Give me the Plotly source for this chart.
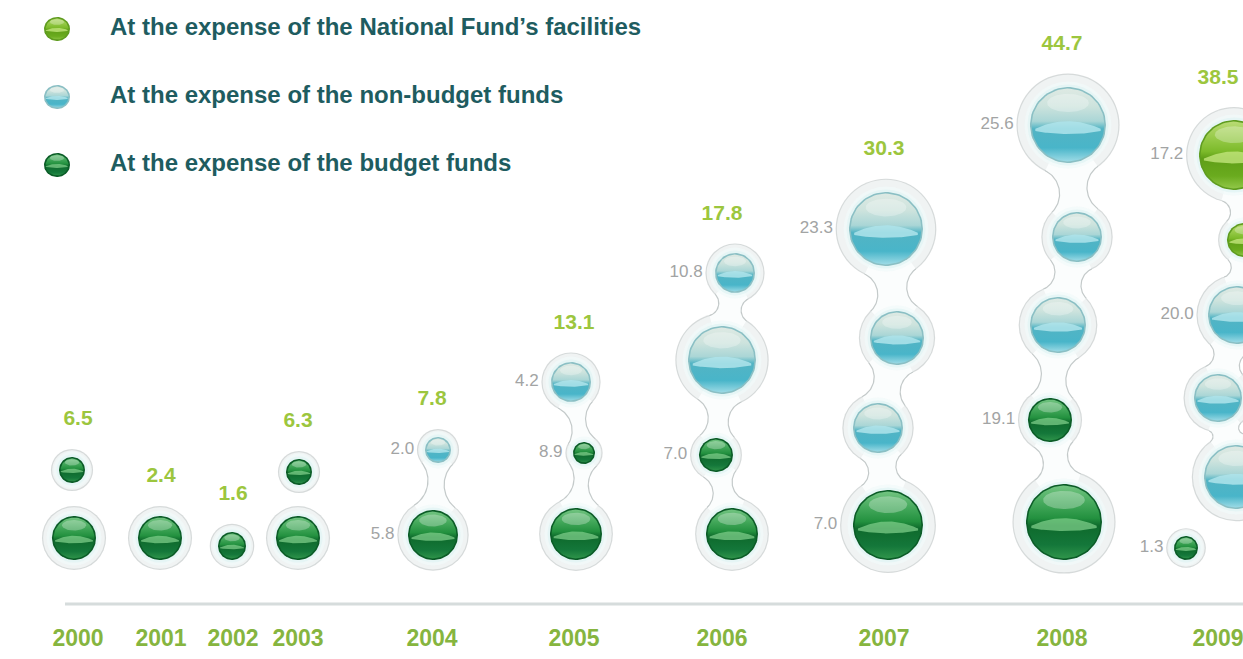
import numpy as np
import plotly.graph_objects as go

# ---- values (billion) ----
years = ["2000", "2001", "2002", "2003", "2004", "2005", "2006", "2007", "2008", "2009"]
budget = [6.5, 2.4, 1.6, 6.3, 5.8, 8.9, 7.0, 7.0, 19.1, 1.3]
non_budget = [0, 0, 0, 0, 2.0, 4.2, 10.8, 23.3, 25.6, 20.0]
national = [0, 0, 0, 0, 0, 0, 0, 0, 0, 17.2]
legend_labels = [
    "At the expense of the National Fund\u2019s facilities",
    "At the expense of the non-budget funds",
    "At the expense of the budget funds",
]

# ---- layout of the bubble columns (pixel-like units) ----
W, H = 1243, 659
FLOOR = 560          # bottom edge of the lowest bubbles
BASE_Y = 604         # horizontal rule
col_x = [78, 161, 233, 298, 432, 574, 722, 884, 1062, 1218]
# per column, bottom to top: (category, radius, dx, gap below, joined to previous)
col_bubbles = [
    [("B", 22, -4, 0, False), ("B", 13, -6, 33, False)],
    [("B", 22, -1, 0, False)],
    [("B", 14, -1, 0, False)],
    [("B", 22, 0, 0, False), ("B", 13, 1, 31, False)],
    [("B", 25, 1, 0, False), ("N", 13, 6, 47, True)],
    [("B", 26, 2, 0, False), ("B", 11, 10, 44, True), ("N", 20, -3, 40, True)],
    [("B", 26, 10, 0, False), ("B", 17, -6, 36, True), ("N", 34, 0, 44, True),
     ("N", 20, 13, 33, True)],
    [("B", 35, 4, 0, False), ("N", 25, -6, 37, True), ("N", 27, 13, 38, True),
     ("N", 37, 2, 45, True)],
    [("B", 38, 2, 0, False), ("B", 22, -12, 42, True), ("N", 28, -4, 45, True),
     ("N", 25, 15, 35, True), ("N", 38, 6, 49, True)],
    [("B", 12, -32, 0, False), ("N", 32, 18, 27, False), ("N", 24, 0, 23, True),
     ("N", 29, 19, 30, True), ("F", 17, 26, 29, True), ("F", 35, 16, 33, True)],
]

cat_values = {"F": national, "N": non_budget, "B": budget}

# glossy fills, top to bottom, plus the pale "wave" reflection colour
STYLE = {
    "B": dict(rim="#0b5c27", band="rgba(125,205,138,0.75)", scale=[
        [0.00, "#76c784"], [0.25, "#45a95c"], [0.45, "#23913f"], [0.55, "#0e6a2c"],
        [0.80, "#14773a"], [1.00, "#32984c"]]),
    "N": dict(rim="#8abfc4", band="rgba(175,228,235,0.85)", scale=[
        [0.00, "#dfeae4"], [0.25, "#cde3dd"], [0.45, "#aad6d6"], [0.55, "#52b4c4"],
        [0.80, "#49b5c9"], [1.00, "#a6dfe9"]]),
    "F": dict(rim="#5f9c1f", band="rgba(195,230,125,0.8)", scale=[
        [0.00, "#bcdc78"], [0.25, "#98cb4a"], [0.45, "#7cba2a"], [0.55, "#5f9e17"],
        [0.80, "#6aab1e"], [1.00, "#95ca4c"]]),
}

HALO_LINE = "#c4caca"
HALO_FILL = "#fbfdfd"


def halo_radius(r):
    return 1.22 * r + 4


def ellipse(cx, cy, rx, ry, n=80):
    t = np.linspace(0, 2 * np.pi, n)
    return cx + rx * np.cos(t), cy + ry * np.sin(t)


def neck(c1, r1, c2, r2, grow=0.0):
    """Filleted bridge between two circles; grow offsets the contour outward."""
    c1 = np.asarray(c1, float)
    c2 = np.asarray(c2, float)
    d = np.linalg.norm(c2 - c1)
    u = (c2 - c1) / d
    nrm = np.array([-u[1], u[0]])
    waist = 0.38 * min(r1, r2)

    def geom(rf):
        a = (d * d + (r1 + rf) ** 2 - (r2 + rf) ** 2) / (2 * d)
        h2 = (r1 + rf) ** 2 - a * a
        return a, np.sqrt(max(h2, 0.0))

    lo = max((d - r1 - r2) / 2, 0) + 1e-3
    rf = None
    for cand in np.linspace(lo, lo + 6 * max(r1, r2), 2000):
        a, h = geom(cand)
        if h - cand >= waist:
            rf = cand
            break
    if rf is None:
        rf = lo + 2 * max(r1, r2)
    a, h = geom(rf)
    sides = []
    for s in (1, -1):
        p = c1 + a * u + s * h * nrm
        ta = c1 + (p - c1) * (r1 + grow) / (r1 + rf)
        tb = c2 + (p - c2) * (r2 + grow) / (r2 + rf)
        aa = np.arctan2(ta[1] - p[1], ta[0] - p[0])
        ab = np.arctan2(tb[1] - p[1], tb[0] - p[0])
        diff = (ab - aa + np.pi) % (2 * np.pi) - np.pi
        t = aa + np.linspace(0, 1, 40) * diff
        sides.append(np.c_[p[0] + (rf - grow) * np.cos(t), p[1] + (rf - grow) * np.sin(t)])
    left, right = sides
    pts = np.array([c1] + list(left) + [c2] + list(right[::-1]) + [c1])
    return pts[:, 0], pts[:, 1]


# ---- place bubbles by stacking each column upward from the floor ----
placed = []
for ci, stack in enumerate(col_bubbles):
    top_edge = FLOOR
    for cat, r, dx, gap, joined in stack:
        cy = top_edge - gap - r
        placed.append(dict(col=ci, cat=cat, cx=col_x[ci] + dx, cy=cy, r=r, joined=joined))
        top_edge = cy - r

fig = go.Figure()
skip = dict(hoverinfo="skip", showlegend=False)

# horizontal rule
fig.add_trace(go.Scatter(x=[65, W], y=[BASE_Y, BASE_Y], mode="lines",
                         line=dict(color="#d6dcdc", width=3), **skip))

# halo contours first, then halo fills, so joined halos show one outline
necks = [(placed[i - 1], b) for i, b in enumerate(placed) if b["joined"]]
for grow, color in ((1.2, HALO_LINE), (0.0, HALO_FILL)):
    fig.add_trace(go.Scatter(
        x=[b["cx"] for b in placed], y=[b["cy"] for b in placed], mode="markers",
        marker=dict(size=[2 * (halo_radius(b["r"]) + grow) for b in placed],
                    color=color, line=dict(width=0)), **skip))
    for p, b in necks:
        nx, ny = neck((p["cx"], p["cy"]), halo_radius(p["r"]),
                      (b["cx"], b["cy"]), halo_radius(b["r"]), grow=grow)
        fig.add_trace(go.Scatter(x=nx, y=ny, mode="lines", fill="toself",
                                 fillcolor=color, line=dict(width=0), **skip))

# soft cyan glow around each bubble
for extra, color in ((11, "#f1fafa"), (5, "#e0f4f4")):
    fig.add_trace(go.Scatter(
        x=[b["cx"] for b in placed], y=[b["cy"] for b in placed], mode="markers",
        marker=dict(size=[2 * b["r"] + extra for b in placed], color=color,
                    line=dict(width=0)), **skip))


def glossy(cx, cy, rx, ry, cat):
    st = STYLE[cat]
    ex, ey = ellipse(cx, cy, rx, ry)
    fig.add_trace(go.Scatter(x=ex, y=ey, mode="lines", fill="toself",
                             fillcolor=st["rim"], line=dict(width=0), **skip))
    ix, iy = ellipse(cx, cy, rx - 1.6, ry - 1.6)
    fig.add_trace(go.Scatter(
        x=ix, y=iy, mode="lines", fill="toself", line=dict(width=0),
        fillgradient=dict(type="vertical", colorscale=st["scale"],
                          start=cy - ry, stop=cy + ry), **skip))
    # curved reflection just below the centre
    s = np.linspace(-1, 1, 40)
    bx = cx + 0.86 * rx * s
    bump = 1 - s ** 2
    upper = cy + 0.10 * ry - 0.20 * ry * bump
    lower = cy + 0.16 * ry + 0.08 * ry * bump
    fig.add_trace(go.Scatter(x=np.r_[bx, bx[::-1]], y=np.r_[upper, lower[::-1]],
                             mode="lines", fill="toself", fillcolor=st["band"],
                             line=dict(width=0), **skip))
    # top sheen
    hx, hy = ellipse(cx, cy - 0.58 * ry, 0.55 * rx, 0.24 * ry)
    fig.add_trace(go.Scatter(x=hx, y=hy, mode="lines", fill="toself",
                             fillcolor="rgba(255,255,255,0.28)", line=dict(width=0), **skip))


for b in placed:
    glossy(b["cx"], b["cy"], b["r"], b["r"], b["cat"])

# ---- texts ----
FONT = "Liberation Sans Narrow, Arial Narrow, Liberation Sans"
cat_order = ["F", "N", "B"]
tot_x, tot_y, tot_t = [], [], []
lab_x, lab_y, lab_t = [], [], []
for ci, yr in enumerate(years):
    col = [b for b in placed if b["col"] == ci]
    top = min(col, key=lambda b: b["cy"] - halo_radius(b["r"]))
    total = budget[ci] + non_budget[ci] + national[ci]
    tot_x.append(col_x[ci])
    tot_y.append(top["cy"] - halo_radius(top["r"]) - 30)
    tot_t.append(f"<b>{total:.1f}</b>")
    present = [c for c in cat_order if cat_values[c][ci] > 0]
    if len(present) > 1:
        for c in present:
            topmost = min((b for b in col if b["cat"] == c), key=lambda b: b["cy"])
            lab_x.append(topmost["cx"] - halo_radius(topmost["r"]) - 4)
            lab_y.append(topmost["cy"])
            lab_t.append(f"{cat_values[c][ci]:.1f}")

fig.add_trace(go.Scatter(x=tot_x, y=tot_y, mode="text", text=tot_t,
                         textposition="middle center",
                         textfont=dict(family=FONT, size=21, color="#9cc63e"), **skip))
fig.add_trace(go.Scatter(x=lab_x, y=lab_y, mode="text", text=lab_t,
                         textposition="middle left",
                         textfont=dict(family=FONT, size=17, color="#a2a4a4"), **skip))
fig.add_trace(go.Scatter(x=col_x, y=[640] * len(years), mode="text",
                         text=[f"<b>{y}</b>" for y in years], textposition="middle center",
                         textfont=dict(family=FONT, size=23, color="#86b53f"), **skip))

# legend
leg_y = [29, 97, 165]
for cat, yy in zip(cat_order, leg_y):
    glossy(57, yy, 13, 12, cat)
fig.add_trace(go.Scatter(x=[110] * 3, y=leg_y, mode="text",
                         text=[f"<b>{t}</b>" for t in legend_labels],
                         textposition="middle right",
                         textfont=dict(family=FONT, size=24, color="#1e5c60"), **skip))

fig.update_layout(
    width=W, height=H, margin=dict(l=0, r=0, t=0, b=0),
    paper_bgcolor="white", plot_bgcolor="white", showlegend=False,
    xaxis=dict(range=[0, W], visible=False, fixedrange=True),
    yaxis=dict(range=[H, 0], visible=False, fixedrange=True),
)
fig.write_html("out.html")
